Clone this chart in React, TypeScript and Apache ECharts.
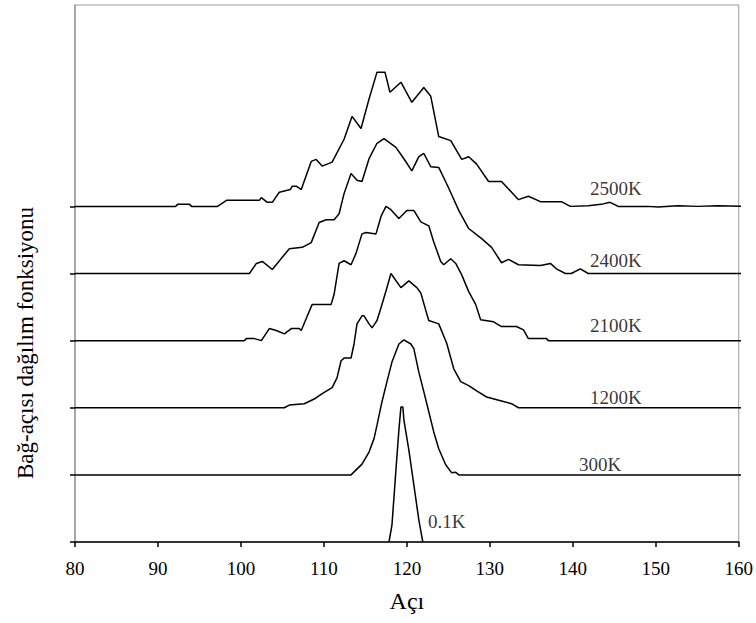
import React, { useEffect, useRef } from "react";
import * as echarts from "echarts";

// Bond-angle distribution curves, one per temperature: [angle (deg), g(θ)]
const temperatures = ["0.1K", "300K", "1200K", "2100K", "2400K", "2500K"];

const curve01K: [number, number][] = [
  [117.84, 0], [118.2, 0.25], [118.68, 1.07], [119.04, 1.67], [119.28, 2.01],
  [119.52, 2.01], [119.64, 1.82], [120.24, 1.37], [120.84, 0.85], [121.44, 0.33],
  [121.92, 0],
];

const curve300K: [number, number][] = [
  [80, 0], [113.27, 0], [114.59, 0.16], [115.44, 0.34], [116.04, 0.54], [116.4, 0.74],
  [117.0, 1.09], [117.6, 1.39], [118.2, 1.68], [119.04, 1.95], [119.64, 2.01],
  [120.48, 1.95], [120.84, 1.88], [121.44, 1.53], [122.04, 1.24], [122.64, 0.94],
  [123.24, 0.64], [123.84, 0.39], [124.68, 0.15], [125.41, 0.03], [125.89, 0.04],
  [126.25, 0], [160.48, 0],
];

const curve1200K: [number, number][] = [
  [80, 0], [105.23, 0], [105.83, 0.04], [107.63, 0.06], [108.83, 0.13], [109.79, 0.21],
  [110.99, 0.3], [111.59, 0.45], [112.07, 0.7], [112.43, 0.74], [113.27, 0.74],
  [113.63, 0.95], [113.99, 1.25], [114.59, 1.37], [114.83, 1.37], [115.44, 1.25],
  [115.8, 1.19], [116.4, 1.3], [116.88, 1.49], [117.48, 1.74], [118.08, 2.0],
  [119.28, 1.79], [120.24, 1.89], [121.2, 1.79], [121.68, 1.71], [122.28, 1.45],
  [122.64, 1.3], [123.84, 1.25], [124.8, 0.96], [125.65, 0.58], [126.49, 0.39],
  [127.45, 0.33], [128.41, 0.25], [129.61, 0.16], [131.41, 0.1], [132.61, 0.06],
  [133.45, 0], [160.48, 0],
];

const curve2100K: [number, number][] = [
  [80, 0], [100.42, 0], [100.66, 0.03], [101.62, 0.03], [102.46, 0], [103.42, 0.18],
  [104.26, 0.15], [105.23, 0.1], [106.07, 0.18], [107.03, 0.18], [107.27, 0.15],
  [107.87, 0.33], [108.59, 0.54], [110.87, 0.54], [111.23, 0.69], [111.83, 1.15],
  [112.43, 1.19], [113.27, 1.13], [113.87, 1.3], [114.59, 1.59], [115.08, 1.61],
  [116.28, 1.59], [116.88, 1.85], [117.48, 2.0], [118.08, 1.95], [119.04, 1.82],
  [120.0, 1.94], [120.84, 1.94], [121.68, 1.77], [122.64, 1.71], [123.24, 1.47],
  [124.08, 1.18], [124.44, 1.13], [125.29, 1.22], [125.89, 1.15], [126.61, 0.98],
  [127.45, 0.73], [128.29, 0.54], [128.89, 0.31], [130.45, 0.28], [131.41, 0.21],
  [133.21, 0.21], [134.05, 0.16], [134.65, 0.03], [136.82, 0.03], [137.06, 0],
  [160.48, 0],
];

const curve2400K: [number, number][] = [
  [80, 0], [101.02, 0], [101.86, 0.15], [102.58, 0.18], [103.78, 0.06], [105.83, 0.37],
  [107.39, 0.39], [108.47, 0.46], [109.43, 0.76], [110.27, 0.8], [111.23, 0.8],
  [111.83, 0.89], [112.43, 1.19], [113.27, 1.49], [113.99, 1.39], [114.59, 1.37],
  [115.44, 1.71], [116.4, 1.94], [117.24, 2.01], [118.68, 1.88], [119.64, 1.71],
  [120.6, 1.53], [121.44, 1.74], [122.04, 1.79], [122.88, 1.59], [123.84, 1.58],
  [125.05, 1.27], [126.25, 0.94], [127.45, 0.67], [129.01, 0.52], [130.21, 0.39],
  [131.41, 0.16], [132.25, 0.21], [133.45, 0.13], [136.1, 0.12], [137.3, 0.15],
  [138.02, 0.07], [139.1, 0], [139.82, 0], [140.9, 0.07], [141.86, 0], [160.48, 0],
];

const curve2500K: [number, number][] = [
  [80, 0], [92.13, 0], [92.37, 0.03], [93.81, 0.03], [94.05, 0], [97.18, 0],
  [98.26, 0.09], [102.22, 0.09], [102.46, 0.13], [103.18, 0.06], [103.78, 0.06],
  [104.62, 0.21], [105.95, 0.25], [106.19, 0.3], [106.67, 0.3], [107.27, 0.25],
  [108.47, 0.67], [109.07, 0.7], [109.79, 0.6], [110.99, 0.66], [112.43, 1.0],
  [113.39, 1.34], [114.47, 1.16], [115.44, 1.6], [116.4, 2.0], [117.36, 2.0],
  [117.96, 1.7], [119.28, 1.85], [120.6, 1.55], [122.04, 1.77], [122.88, 1.64],
  [123.84, 1.04], [125.29, 0.98], [126.61, 0.7], [127.45, 0.74], [128.41, 0.63],
  [129.85, 0.37], [131.41, 0.37], [133.45, 0.1], [134.65, 0.15], [136.1, 0.07],
  [138.62, 0.07], [139.7, 0], [141.86, 0.01], [143.42, 0.03], [144.5, 0.06],
  [145.47, 0], [149.07, 0], [150.27, -0.01], [152.67, 0.01], [155.08, 0],
  [157.48, 0.01], [160.48, 0],
];

const curves = [curve01K, curve300K, curve1200K, curve2100K, curve2400K, curve2500K];

// Each curve is lifted by one unit above the previous one
const offsets = [0, 1, 2, 3, 4, 5];

const xTicks = { min: 80, max: 160, step: 10 };

const yTitle = "Bağ-açısı dağılım fonksiyonu";
const xTitle = "Açı";

const FONT = '"Liberation Serif", "Times New Roman", Times, serif';

export default function App() {
  const ref = useRef<HTMLDivElement | null>(null);

  useEffect(() => {
    if (!ref.current) return;
    const chart = echarts.init(ref.current, undefined, { renderer: "svg" });

    // Where each temperature tag sits: [angle, height above its own baseline]
    const tagAnchors: [number, number][] = [
      [124.8, 0.3],
      [143.3, 0.16],
      [145.2, 0.16],
      [145.2, 0.22],
      [145.2, 0.2],
      [145.2, 0.27],
    ];

    const lineSeries = curves.map((pts, i) => ({
      type: "line",
      name: temperatures[i],
      data: pts.map(([a, g]) => [a, g + offsets[i]]),
      showSymbol: false,
      symbol: "none",
      clip: false,
      silent: true,
      lineStyle: { color: "#000", width: 1.5 },
      z: 3,
    }));

    const tagSeries = {
      type: "scatter",
      silent: true,
      symbolSize: 0,
      data: tagAnchors.map(([a, h], i) => ({
        value: [a, h + offsets[i]],
        name: temperatures[i],
      })),
      label: {
        show: true,
        position: "inside",
        formatter: "{b}",
        fontFamily: FONT,
        fontSize: 19,
        color: "#000",
      },
      z: 4,
    };

    chart.setOption({
      animation: false,
      backgroundColor: "#fff",
      grid: {
        left: 75,
        right: 15,
        top: 5,
        bottom: 81,
        show: true,
        borderColor: "#9a9a9a",
        borderWidth: 1,
      },
      graphic: [
        {
          type: "text",
          x: 25,
          y: 343,
          rotation: Math.PI / 2,
          silent: true,
          style: {
            text: yTitle,
            fontFamily: FONT,
            fontSize: 23,
            fill: "#000",
            align: "center",
            verticalAlign: "middle",
          },
        },
      ],
      xAxis: {
        type: "value",
        min: xTicks.min,
        max: xTicks.max,
        interval: xTicks.step,
        name: xTitle,
        nameLocation: "middle",
        nameGap: 47,
        nameTextStyle: { fontFamily: FONT, fontSize: 24, color: "#000" },
        axisLine: { show: true, lineStyle: { color: "#000", width: 1.5 } },
        axisTick: { show: true, inside: false, length: 5, lineStyle: { color: "#000", width: 1.5 } },
        axisLabel: { fontFamily: FONT, fontSize: 19, color: "#000", margin: 17 },
        splitLine: { show: false },
      },
      yAxis: {
        type: "value",
        min: 0,
        max: 8,
        interval: 1,
        axisLine: { show: true, lineStyle: { color: "#9a9a9a", width: 1.5 } },
        axisTick: {
          show: true,
          inside: false,
          length: 5,
          customValues: offsets,
          lineStyle: { color: "#000", width: 1.5 },
        },
        axisLabel: { show: false },
        splitLine: { show: false },
      },
      series: [...lineSeries, tagSeries],
    });

    return () => {
      chart.dispose();
    };
  }, []);

  return (
    <div
      ref={ref}
      style={{
        position: "fixed",
        left: 0,
        top: 0,
        width: 756,
        height: 623,
        background: "#fff",
      }}
    />
  );
}
